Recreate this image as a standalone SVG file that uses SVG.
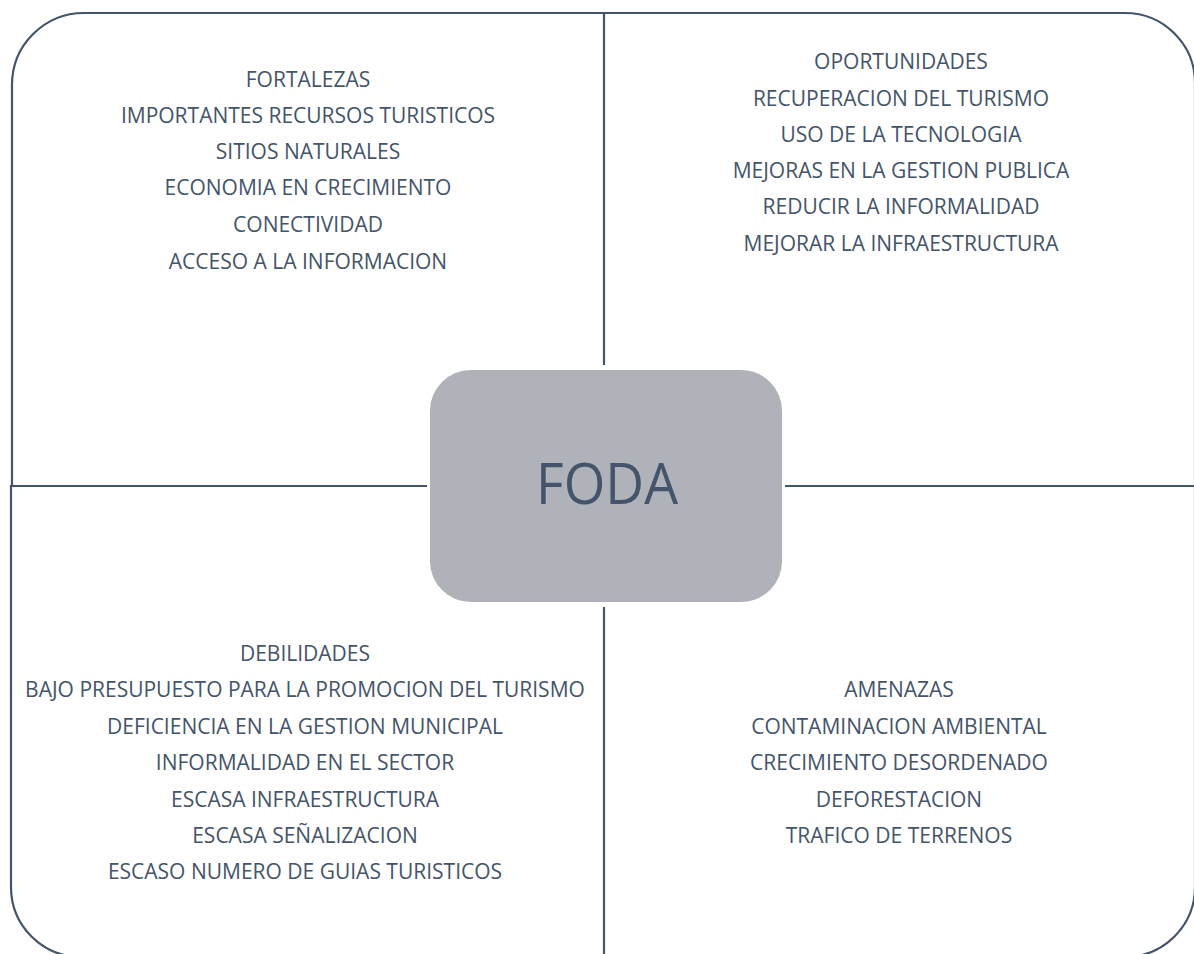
<svg xmlns="http://www.w3.org/2000/svg" width="1194" height="954" viewBox="0 0 1194 954">
<style>
.q{fill:none;stroke:#44546a;stroke-width:2.2}
.t{font-family:"Open Sans","Liberation Sans",sans-serif;font-size:21px;fill:#44546a;text-anchor:middle}
.c{font-family:"Open Sans","Liberation Sans",sans-serif;font-size:56px;fill:#44546a;text-anchor:middle}
</style>
<rect width="1194" height="954" fill="#ffffff"/>
<g id="connectors">
<path id="q-tl" class="q" d="M604,365 V13 H84 A72,72 0 0 0 12,85 V486 H427"/>
<path id="q-tr" class="q" d="M604,13 H1125 A70,70 0 0 1 1195,83 V486 H785"/>
<path id="q-bl" class="q" d="M427,486 H11 V887 A70,70 0 0 0 81,957 H604 V607"/>
<path id="q-br" class="q" d="M785,486 H1195 V887 A70,70 0 0 1 1125,957 H604"/>
</g>
<g id="fortalezas">
<text class="t" x="308" y="87">FORTALEZAS</text>
<text class="t" x="308" y="123">IMPORTANTES RECURSOS TURISTICOS</text>
<text class="t" x="308" y="159">SITIOS NATURALES</text>
<text class="t" x="308" y="195">ECONOMIA EN CRECIMIENTO</text>
<text class="t" x="308" y="232">CONECTIVIDAD</text>
<text class="t" x="308" y="269">ACCESO A LA INFORMACION</text>
</g>
<g id="oportunidades">
<text class="t" x="901" y="69">OPORTUNIDADES</text>
<text class="t" x="901" y="106">RECUPERACION DEL TURISMO</text>
<text class="t" x="901" y="142">USO DE LA TECNOLOGIA</text>
<text class="t" x="901" y="178">MEJORAS EN LA GESTION PUBLICA</text>
<text class="t" x="901" y="214">REDUCIR LA INFORMALIDAD</text>
<text class="t" x="901" y="251">MEJORAR LA INFRAESTRUCTURA</text>
</g>
<g id="debilidades">
<text class="t" x="305" y="661">DEBILIDADES</text>
<text class="t" x="305" y="697">BAJO PRESUPUESTO PARA LA PROMOCION DEL TURISMO</text>
<text class="t" x="305" y="734">DEFICIENCIA EN LA GESTION MUNICIPAL</text>
<text class="t" x="305" y="770">INFORMALIDAD EN EL SECTOR</text>
<text class="t" x="305" y="807">ESCASA INFRAESTRUCTURA</text>
<text class="t" x="305" y="843">ESCASA SEÑALIZACION</text>
<text class="t" x="305" y="879">ESCASO NUMERO DE GUIAS TURISTICOS</text>
</g>
<g id="amenazas">
<text class="t" x="899" y="697">AMENAZAS</text>
<text class="t" x="899" y="734">CONTAMINACION AMBIENTAL</text>
<text class="t" x="899" y="770">CRECIMIENTO DESORDENADO</text>
<text class="t" x="899" y="807">DEFORESTACION</text>
<text class="t" x="899" y="843">TRAFICO DE TERRENOS</text>
</g>
<g id="foda">
<rect x="429" y="369" width="354" height="234" rx="42" ry="42" fill="#afb2b9" stroke="#ffffff" stroke-width="2"/>
<text class="c" x="607" y="504" textLength="142" lengthAdjust="spacingAndGlyphs">FODA</text>
</g>
</svg>
